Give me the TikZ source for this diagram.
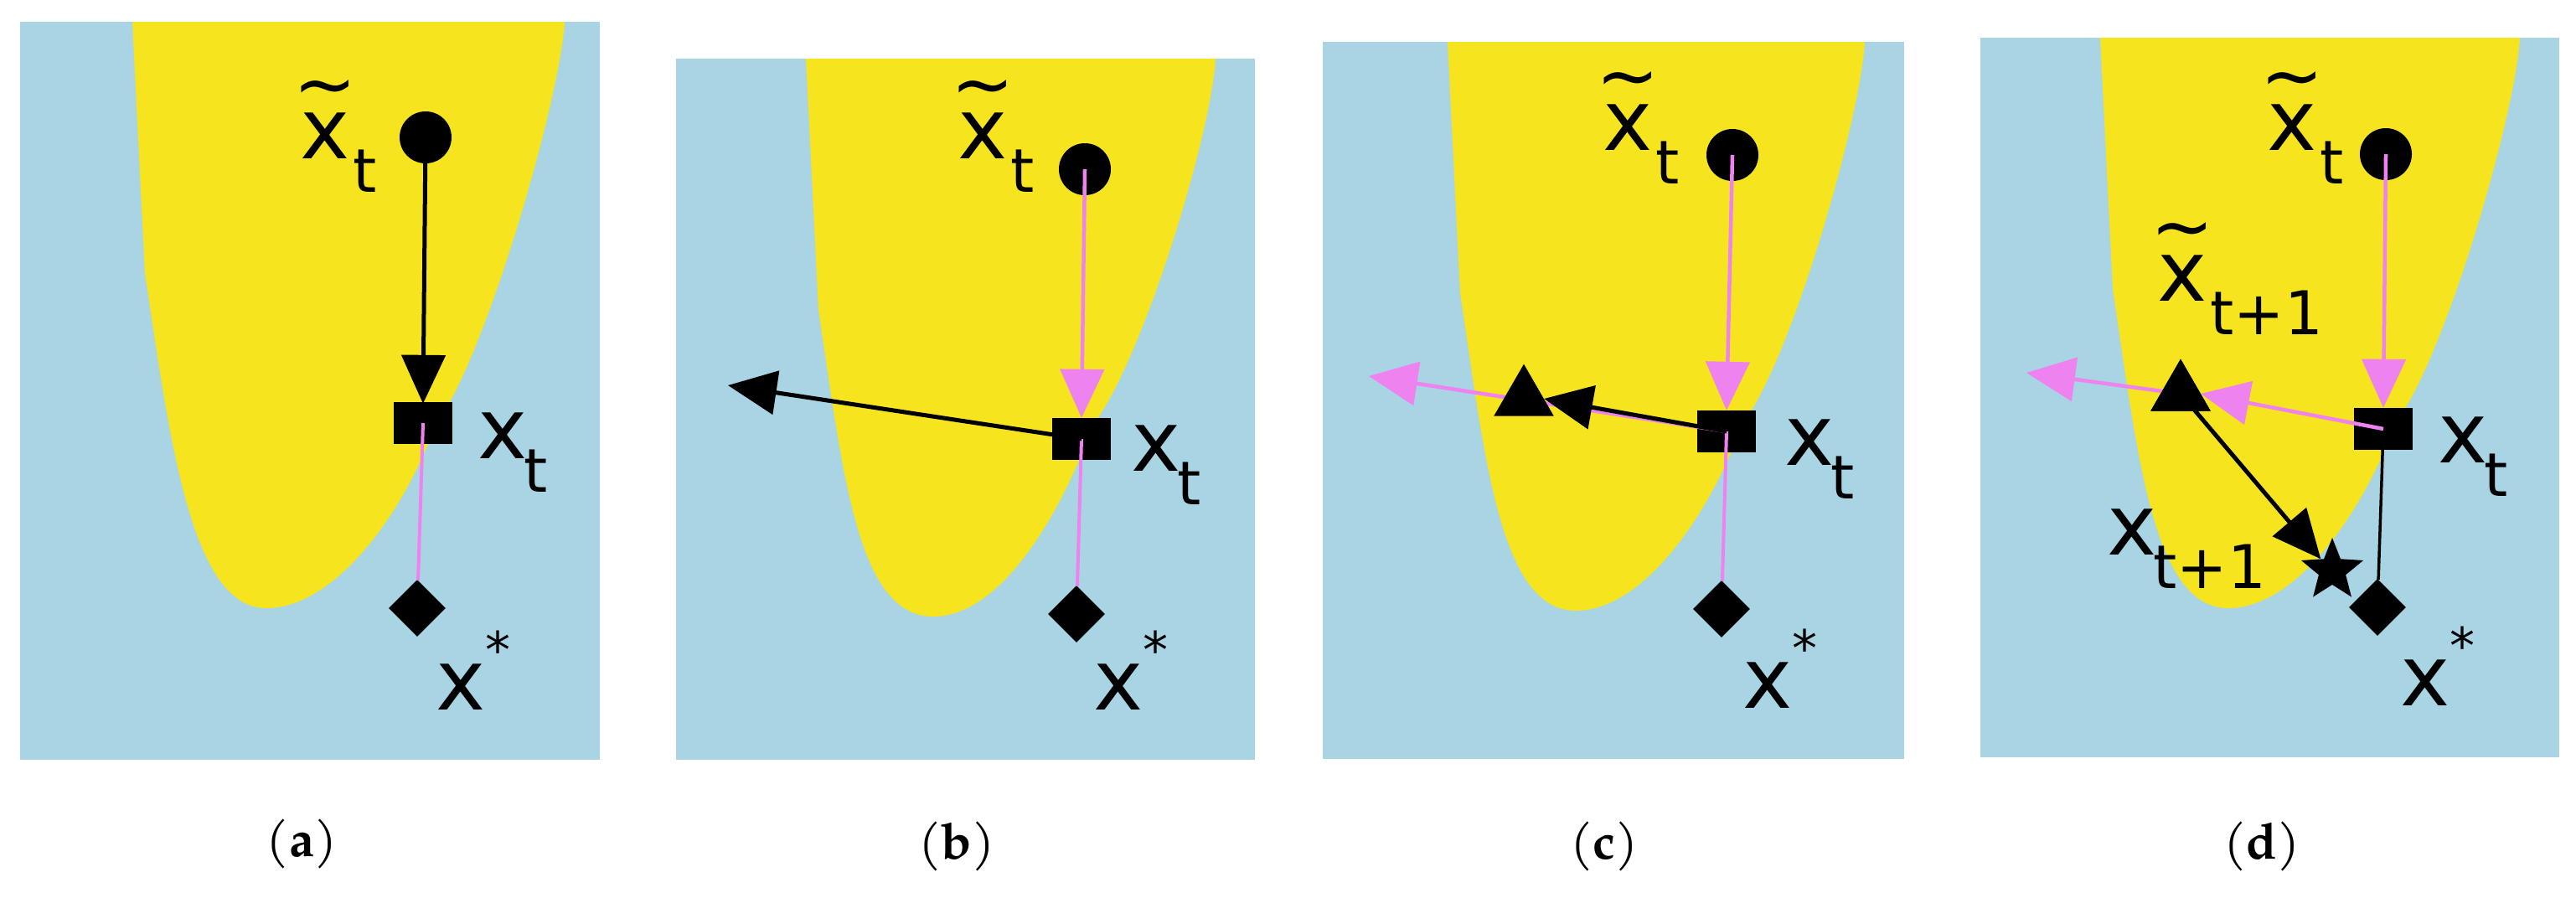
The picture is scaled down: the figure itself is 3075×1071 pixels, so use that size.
\documentclass[tikz,border=0pt]{standalone}
\usepackage{fontspec}
\setmainfont{TeX Gyre Pagella}
\newfontfamily\labf{DejaVu Sans}
\usetikzlibrary{arrows.meta,shapes.geometric}
\definecolor{bg}{HTML}{A8D4E4}
\definecolor{yel}{HTML}{F5E41E}
\definecolor{pnk}{HTML}{EE82EE}
\newcommand{\sub}[1]{\kern-0.04em\raisebox{-0.4em}{\fontsize{72}{72}\selectfont #1}}
\newcommand{\supr}[1]{\raisebox{0.5em}{\fontsize{60}{60}\selectfont #1}}
\newcommand{\tx}{\shortstack[c]{\fontsize{90}{30}\selectfont\raisebox{-0.45em}{\char"007E}\\x}}
\newcommand{\panel}[9]{%
  \fill[bg] (#1,#2) rectangle (#3,#4);
  \fill[yel] (#5,#2) -- (#6,#2) .. controls ({#6-5},{#2+90}) and ({#9+60},{#4-480}) .. (#9,{#4-400})
    .. controls ({#9-40},{#4-290}) and ({#7+80},{#8}) .. (#7,#8)
    .. controls ({#7-90},{#8}) and ({#5+45},{#2+500}) .. ({#5+15},{#2+300}) -- cycle;}
\tikzset{
  lab/.style={font=\labf\fontsize{100}{100}\selectfont, inner sep=0pt},
  captxt/.style={font=\fontsize{60}{60}\selectfont, inner sep=0pt},
  circ/.style={circle, fill=black, minimum size=62pt, inner sep=0pt},
  sq/.style={rectangle, fill=black, minimum width=70pt, minimum height=50pt, inner sep=0pt},
  dia/.style={diamond, fill=black, minimum width=68pt, minimum height=68pt, inner sep=0pt},
  tri/.style={isosceles triangle, isosceles triangle apex angle=60, shape border rotate=90, fill=black, minimum height=62pt, inner sep=0pt},
  st/.style={star, star points=5, star point ratio=2.3, fill=black, minimum size=78pt, inner sep=0pt},
  blk/.style={line width=5pt, black, -{Triangle[length=58pt,width=52pt]}},
  pk/.style={line width=4.5pt, pnk, -{Triangle[length=58pt,width=52pt]}},
  pkl/.style={line width=4pt, pnk},
  thin/.style={line width=3.5pt, black}
}
\begin{document}
\begin{tikzpicture}[x=1pt,y=-1pt]
\fill[white] (0,0) rectangle (3075,1071);
\useasboundingbox (0,0) rectangle (3075,1071);
% (a)
\panel{24}{26}{716}{907}{158}{674}{318}{726}{520}
\node[circ] (ca) at (508,164) {};
\node[sq] (sa) at (505,505) {};
\node[dia] (da) at (498,726) {};
\draw[pkl] (sa.center) -- (da);
\draw[blk, shorten >=-2pt] (ca.center) -- (sa.north);
\node[lab] (la1) at (400,160) {\tx\sub{t}};
\node[lab] (la2) at (612,540) {x\sub{t}};
\node[lab] (la3) at (565,800) {x\supr{*}};
\node[captxt] (capa) at (360,1007) {(\textbf{a})};
% (b)
\panel{807}{70}{1498}{907}{962}{1451}{1114}{736}{1305}
\node[circ] (cb) at (1295,202) {};
\node[sq] (sb) at (1291,524) {};
\node[dia] (db) at (1285,733) {};
\coordinate (tb) at (869,460);
\draw[pkl] (sb.center) -- (db);
\draw[pk] (cb.center) -- (sb.north);
\draw[blk] (sb.center) -- (tb);
\node[lab] (lb1) at (1185,160) {\tx\sub{t}};
\node[lab] (lb2) at (1392,555) {x\sub{t}};
\node[lab] (lb3) at (1350,800) {x\supr{*}};
\node[captxt] (capb) at (1142,1010) {(\textbf{b})};
% (c)
\panel{1579}{50}{2273}{906}{1728}{2226}{1881}{729}{2080}
\node[circ] (cc) at (2068,185) {};
\node[sq] (sc) at (2061,515) {};
\node[dia] (dc) at (2055,727) {};
\coordinate (tc) at (1634,449);
\draw[pkl] (sc.center) -- (dc);
\draw[pk] (sc.center) -- (tc);
\node[tri] (trc) at (1819,476) {};
\draw[pk] (cc.center) -- (sc.north);
\draw[blk] (sc.center) -- (trc.east);
\node[lab] (lc1) at (1955,150) {\tx\sub{t}};
\node[lab] (lc2) at (2172,548) {x\sub{t}};
\node[lab] (lc3) at (2125,798) {x\supr{*}};
\node[captxt] (capc) at (1915,1010) {(\textbf{c})};
% (d)
\panel{2364}{45}{3055}{904}{2507}{3008}{2660}{726}{2860}
\node[circ] (cd) at (2848,184) {};
\node[sq] (sd) at (2845,512) {};
\node[dia] (dd) at (2838,725) {};
\coordinate (td) at (2419,445);
\draw[thin] (sd.center) -- (dd);
\node[tri] (trd) at (2603,470) {};
\draw[pk] (trd.center) -- (td);
\draw[pk] (sd.center) -- (trd.east);
\node[tri] at (2603,470) {};
\draw[pk] (cd.center) -- (sd.north);
\node[st] (std) at (2784,681) {};
\draw[blk] (trd.center) -- (std.north west);
\node[lab] (ld1) at (2748,150) {\tx\sub{t}};
\node[lab] (ld4) at (2670,330) {\tx\sub{t+1}};
\node[lab] (ld5) at (2610,655) {x\sub{t+1}};
\node[lab] (ld2) at (2952,545) {x\sub{t}};
\node[lab] (ld3) at (2910,795) {x\supr{*}};
\node[captxt] (capd) at (2700,1010) {(\textbf{d})};
\end{tikzpicture}
\end{document}
